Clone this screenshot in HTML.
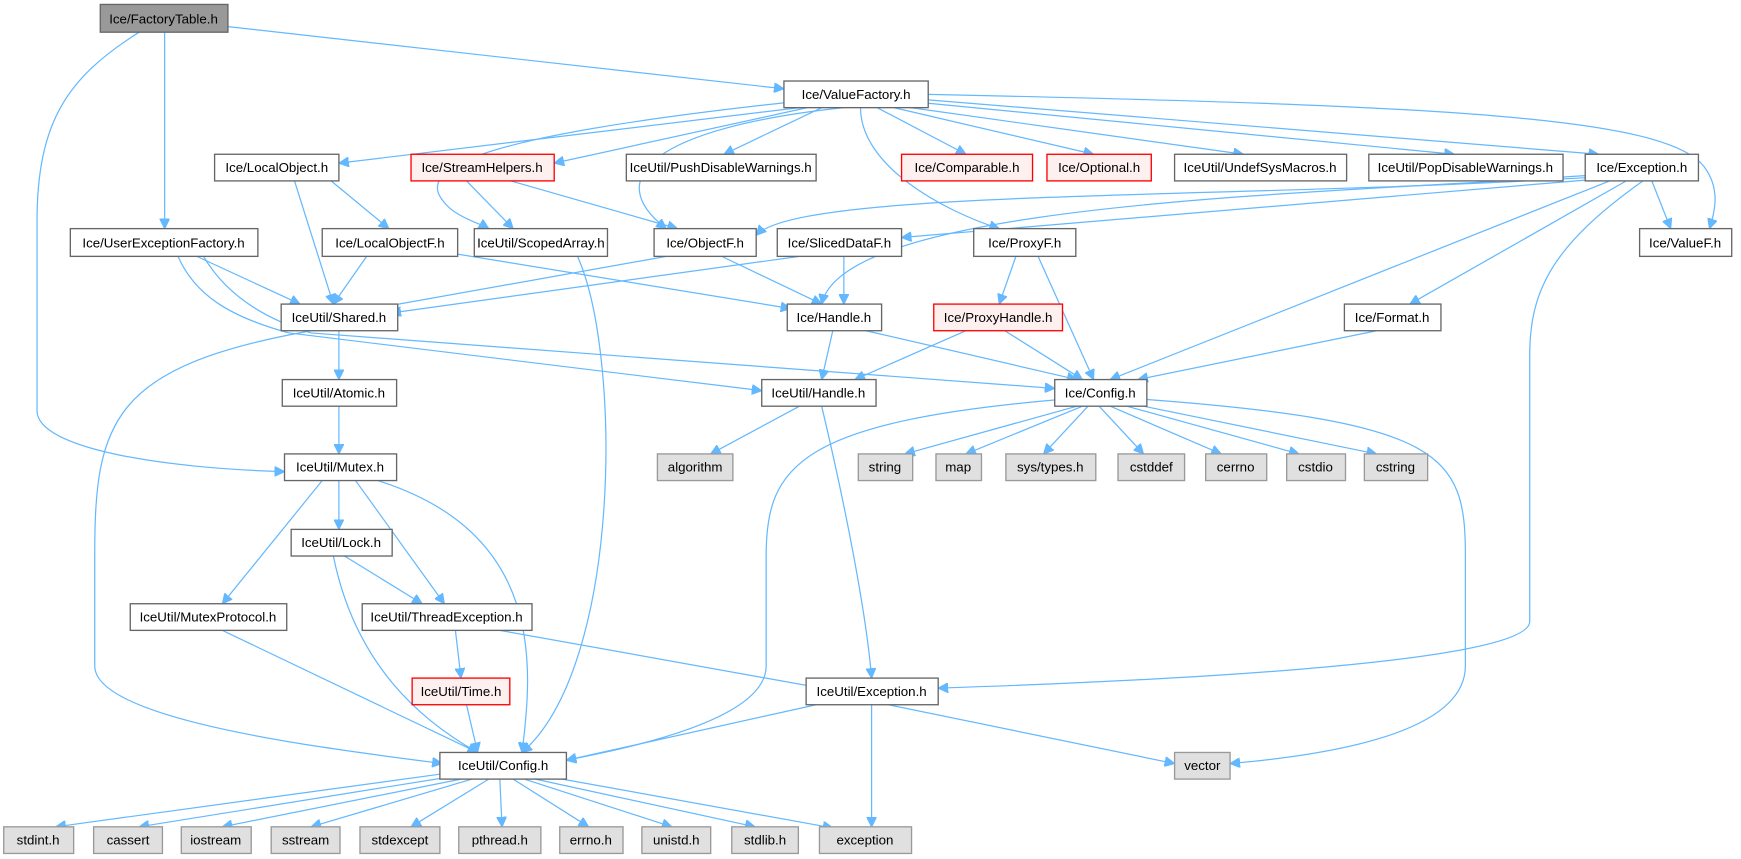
<!DOCTYPE html>
<html><head><meta charset="utf-8"><style>
html,body{margin:0;padding:0;background:#fff;}
svg{display:block}
text{font-family:"Liberation Sans",Arial,sans-serif;font-size:12px;text-anchor:middle;fill:#000}
.n{fill:#fff;stroke:#666;stroke-width:1.2}
.g{fill:#e0e0e0;stroke:#999;stroke-width:1.2}
.r{fill:#fff0f0;stroke:#f00;stroke-width:1.2}
.t{fill:#999;stroke:#666;stroke-width:1.2}
path{fill:none;stroke:#63b8ff;stroke-width:1.1;marker-end:url(#a)}
</style></head><body>
<svg width="1741" height="859" viewBox="0 0 1568 774" xmlns="http://www.w3.org/2000/svg">
<defs><marker id="a" viewBox="0 0 10 10" refX="10" refY="5" markerWidth="9" markerHeight="9" markerUnits="userSpaceOnUse" orient="auto"><path d="M0,0 L10,5 L0,10 z" style="fill:#63b8ff;stroke:#63b8ff;marker-end:none"/></marker></defs>

<path d="M205,24 L706,80"/>
<path d="M148,29 L148,206"/>
<path d="M125,29 C60,70 33,110 33,200 L33,370 C33,405 150,422 256,425"/>
<path d="M720,97 L305,147"/>
<path d="M727,97 L499,147"/>
<path d="M740,97 L652,139"/>
<path d="M790,97 L870,139"/>
<path d="M805,97 L985,139"/>
<path d="M820,97 L1120,139"/>
<path d="M836,93 L1310,139"/>
<path d="M836,90 L1440,139"/>
<path d="M836,85 C1300,95 1500,105 1535,150 C1550,170 1545,190 1540,206"/>
<path d="M712,92 C500,115 380,140 395,175 C405,195 430,200 440,206"/>
<path d="M760,97 C590,115 540,160 600,206"/>
<path d="M775,97 C775,150 850,190 900,206"/>
<path d="M265,163 L300,274"/>
<path d="M298,163 L350,206"/>
<path d="M420,163 L462,206"/>
<path d="M460,163 L610,206"/>
<path d="M1488,163 L1505,206"/>
<path d="M1430,160 C1100,180 720,170 681,212"/>
<path d="M1432,162 L812,214"/>
<path d="M1430,158 C1200,175 760,180 740,274"/>
<path d="M1450,163 L1000,342"/>
<path d="M1465,163 L1270,274"/>
<path d="M1480,163 C1400,220 1378,260 1378,320 L1378,560 C1378,600 1000,615 845,620"/>
<path d="M177,231 L270,274"/>
<path d="M160,231 C175,265 205,285 260,300 L686,352"/>
<path d="M183,231 C200,260 230,285 280,300 L950,350"/>
<path d="M330,231 L300,274"/>
<path d="M412,229 L712,278"/>
<path d="M600,231 L325,280"/>
<path d="M650,231 L740,274"/>
<path d="M720,231 L352,282"/>
<path d="M760,231 L760,274"/>
<path d="M915,231 L900,274"/>
<path d="M935,231 L985,342"/>
<path d="M520,231 C560,320 560,600 470,678"/>
<path d="M305,298 L305,342"/>
<path d="M280,298 C100,330 85,380 85,500 L85,600 C85,650 300,675 398,688"/>
<path d="M750,298 L740,342"/>
<path d="M780,298 L970,342"/>
<path d="M870,298 L770,342"/>
<path d="M905,298 L975,342"/>
<path d="M1240,298 L1025,342"/>
<path d="M305,366 L305,409"/>
<path d="M720,366 L640,409"/>
<path d="M740,366 C760,450 780,550 785,611"/>
<path d="M970,366 L815,409"/>
<path d="M975,366 L870,409"/>
<path d="M980,366 L940,409"/>
<path d="M990,366 L1030,409"/>
<path d="M1000,366 L1100,409"/>
<path d="M1015,366 L1170,409"/>
<path d="M1030,366 L1240,409"/>
<path d="M1033,360 C1300,380 1320,410 1320,500 L1320,600 C1320,660 1200,680 1108,688"/>
<path d="M955,360 C720,380 690,420 690,500 L690,600 C690,650 560,675 510,685"/>
<path d="M305,433 L305,477"/>
<path d="M290,433 L200,544"/>
<path d="M320,433 L400,544"/>
<path d="M340,433 C490,480 480,600 470,678"/>
<path d="M310,501 L380,544"/>
<path d="M300,501 C320,600 380,650 430,678"/>
<path d="M200,568 L430,678"/>
<path d="M410,568 L415,611"/>
<path d="M450,568 L740,620"/>
<path d="M420,635 L430,678"/>
<path d="M735,635 L510,685"/>
<path d="M800,635 L1058,688"/>
<path d="M785,635 L785,745"/>
<path d="M400,697 L50,745"/>
<path d="M405,700 L125,745"/>
<path d="M415,702 L200,745"/>
<path d="M425,702 L280,745"/>
<path d="M440,702 L370,745"/>
<path d="M450,702 L452,745"/>
<path d="M462,702 L530,745"/>
<path d="M472,702 L605,745"/>
<path d="M482,702 L680,745"/>
<path d="M495,700 L750,746"/>

<rect class="t" x="90" y="4" width="115" height="25"/><text x="147" y="21">Ice/FactoryTable.h</text>
<rect class="n" x="706" y="73" width="130" height="24"/><text x="771" y="89">Ice/ValueFactory.h</text>
<rect class="n" x="193" y="139" width="112" height="24"/><text x="249" y="155">Ice/LocalObject.h</text>
<rect class="r" x="370" y="139" width="129" height="24"/><text x="434" y="155">Ice/StreamHelpers.h</text>
<rect class="n" x="564" y="139" width="171" height="24"/><text x="649" y="155">IceUtil/PushDisableWarnings.h</text>
<rect class="r" x="812" y="139" width="118" height="24"/><text x="871" y="155">Ice/Comparable.h</text>
<rect class="r" x="943" y="139" width="94" height="24"/><text x="990" y="155">Ice/Optional.h</text>
<rect class="n" x="1058" y="139" width="155" height="24"/><text x="1135" y="155">IceUtil/UndefSysMacros.h</text>
<rect class="n" x="1233" y="139" width="175" height="24"/><text x="1320" y="155">IceUtil/PopDisableWarnings.h</text>
<rect class="n" x="1428" y="139" width="102" height="24"/><text x="1479" y="155">Ice/Exception.h</text>
<rect class="n" x="63" y="206" width="169" height="25"/><text x="147" y="223">Ice/UserExceptionFactory.h</text>
<rect class="n" x="290" y="206" width="122" height="25"/><text x="351" y="223">Ice/LocalObjectF.h</text>
<rect class="n" x="427" y="206" width="120" height="25"/><text x="487" y="223">IceUtil/ScopedArray.h</text>
<rect class="n" x="589" y="206" width="92" height="25"/><text x="635" y="223">Ice/ObjectF.h</text>
<rect class="n" x="700" y="206" width="112" height="25"/><text x="756" y="223">Ice/SlicedDataF.h</text>
<rect class="n" x="877" y="206" width="92" height="25"/><text x="923" y="223">Ice/ProxyF.h</text>
<rect class="n" x="1477" y="206" width="83" height="25"/><text x="1518" y="223">Ice/ValueF.h</text>
<rect class="n" x="253" y="274" width="105" height="24"/><text x="305" y="290">IceUtil/Shared.h</text>
<rect class="n" x="709" y="274" width="85" height="24"/><text x="751" y="290">Ice/Handle.h</text>
<rect class="r" x="841" y="274" width="116" height="24"/><text x="899" y="290">Ice/ProxyHandle.h</text>
<rect class="n" x="1211" y="274" width="87" height="24"/><text x="1254" y="290">Ice/Format.h</text>
<rect class="n" x="254" y="342" width="103" height="24"/><text x="305" y="358">IceUtil/Atomic.h</text>
<rect class="n" x="686" y="342" width="103" height="24"/><text x="737" y="358">IceUtil/Handle.h</text>
<rect class="n" x="950" y="342" width="83" height="24"/><text x="991" y="358">Ice/Config.h</text>
<rect class="g" x="592" y="409" width="68" height="24"/><text x="626" y="425">algorithm</text>
<rect class="g" x="773" y="409" width="49" height="24"/><text x="797" y="425">string</text>
<rect class="g" x="843" y="409" width="41" height="24"/><text x="863" y="425">map</text>
<rect class="g" x="906" y="409" width="81" height="24"/><text x="946" y="425">sys/types.h</text>
<rect class="g" x="1007" y="409" width="60" height="24"/><text x="1037" y="425">cstddef</text>
<rect class="g" x="1086" y="409" width="55" height="24"/><text x="1113" y="425">cerrno</text>
<rect class="g" x="1159" y="409" width="53" height="24"/><text x="1185" y="425">cstdio</text>
<rect class="g" x="1229" y="409" width="57" height="24"/><text x="1257" y="425">cstring</text>
<rect class="n" x="256" y="409" width="101" height="24"/><text x="306" y="425">IceUtil/Mutex.h</text>
<rect class="n" x="262" y="477" width="91" height="24"/><text x="307" y="493">IceUtil/Lock.h</text>
<rect class="n" x="117" y="544" width="141" height="24"/><text x="187" y="560">IceUtil/MutexProtocol.h</text>
<rect class="n" x="326" y="544" width="153" height="24"/><text x="402" y="560">IceUtil/ThreadException.h</text>
<rect class="r" x="371" y="611" width="88" height="24"/><text x="415" y="627">IceUtil/Time.h</text>
<rect class="n" x="726" y="611" width="119" height="24"/><text x="785" y="627">IceUtil/Exception.h</text>
<rect class="n" x="396" y="678" width="114" height="24"/><text x="453" y="694">IceUtil/Config.h</text>
<rect class="g" x="1058" y="678" width="50" height="24"/><text x="1083" y="694">vector</text>
<rect class="g" x="3" y="745" width="63" height="24"/><text x="34" y="761">stdint.h</text>
<rect class="g" x="84" y="745" width="62" height="24"/><text x="115" y="761">cassert</text>
<rect class="g" x="163" y="745" width="63" height="24"/><text x="194" y="761">iostream</text>
<rect class="g" x="244" y="745" width="62" height="24"/><text x="275" y="761">sstream</text>
<rect class="g" x="324" y="745" width="72" height="24"/><text x="360" y="761">stdexcept</text>
<rect class="g" x="413" y="745" width="74" height="24"/><text x="450" y="761">pthread.h</text>
<rect class="g" x="504" y="745" width="57" height="24"/><text x="532" y="761">errno.h</text>
<rect class="g" x="578" y="745" width="62" height="24"/><text x="609" y="761">unistd.h</text>
<rect class="g" x="659" y="745" width="60" height="24"/><text x="689" y="761">stdlib.h</text>
<rect class="g" x="738" y="745" width="83" height="24"/><text x="779" y="761">exception</text>
</svg>
</body></html>
